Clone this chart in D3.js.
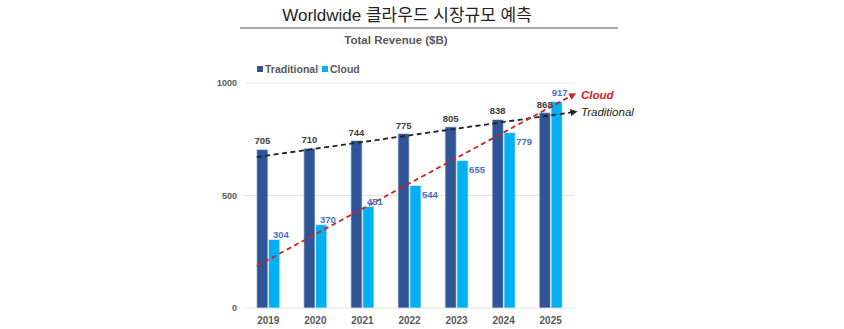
<!DOCTYPE html>
<html>
<head>
<meta charset="utf-8">
<script src="https://cdn.jsdelivr.net/npm/d3@7"></script>
<style>
  body { margin: 0; background: #fff; }
  svg { display: block; font-family: "Liberation Sans", Arial, sans-serif; }
</style>
</head>
<body>
<div id="chart"></div>
<script>
const years = ['2019', '2020', '2021', '2022', '2023', '2024', '2025'];
const traditional = [705, 710, 744, 775, 805, 838, 868];
const cloud = [304, 370, 451, 544, 655, 779, 917];
const yTicks = [0, 500, 1000];
// dashed trend lines, start / end values
const tradTrend = [671, 871];
const cloudTrend = [187, 947];
// where each cloud value label sits next to its bar
const cloudLabelPlace = ['top', 'top', 'top', 'side', 'side', 'side', 'over'];

const W = 844, H = 329;
const svg = d3.select('#chart').append('svg').attr('width', W).attr('height', H);

// title block
svg.append('text').attr('x', 407).attr('y', 21).attr('text-anchor', 'middle')
  .style('font-family', '"Liberation Sans", "Noto Sans CJK KR", sans-serif')
  .style('font-size', '17px').attr('fill', '#222')
  .text('Worldwide 클라우드 시장규모 예측');
svg.append('line').attr('x1', 240).attr('x2', 618).attr('y1', 28).attr('y2', 28)
  .attr('stroke', '#8c8c8c').attr('stroke-width', 1.5);
svg.append('text').attr('x', 396).attr('y', 44).attr('text-anchor', 'middle')
  .style('font-size', '11.5px').style('font-weight', 'bold').attr('fill', '#595959')
  .text('Total Revenue ($B)');

const TRAD_COLOR = '#2f5597';
const CLOUD_COLOR = '#00b0f0';

// legend
const legend = [['Traditional', TRAD_COLOR, 257], ['Cloud', CLOUD_COLOR, 322]];
legend.forEach(([name, color, lx]) => {
  svg.append('rect').attr('x', lx).attr('y', 66).attr('width', 6).attr('height', 6).attr('fill', color);
  svg.append('text').attr('x', lx + 8).attr('y', 73)
    .style('font-size', '10.5px').style('font-weight', 'bold').attr('fill', '#595959').text(name);
});

const y = d3.scaleLinear().domain([0, 1000]).range([308, 83]);
const x0 = d3.scaleBand().domain(years).range([245, 574]).paddingInner(0.51).paddingOuter(0.25);
const x1 = d3.scaleBand().domain(['trad', 'cloud']).range([0, x0.bandwidth()]).paddingInner(0.06);

// gridlines + y labels
svg.append('g').selectAll('line').data(yTicks).join('line')
  .attr('x1', 245).attr('x2', 574).attr('y1', d => y(d)).attr('y2', d => y(d))
  .attr('stroke', '#e3e3e3').attr('stroke-width', 1);
svg.append('g').selectAll('text').data(yTicks).join('text')
  .attr('x', 237).attr('y', d => y(d) + 3).attr('text-anchor', 'end')
  .style('font-size', '9px').style('font-weight', 'bold').attr('fill', '#595959')
  .text(d => d);

// x labels
svg.append('g').selectAll('text').data(years).join('text')
  .attr('x', d => x0(d) + x0.bandwidth() / 2).attr('y', 324).attr('text-anchor', 'middle')
  .style('font-size', '10px').style('font-weight', 'bold').attr('fill', '#595959')
  .text(d => d);

const rows = years.map((yr, i) => ({ yr, i, trad: traditional[i], cloud: cloud[i] }));

const bars = svg.append('g');
bars.selectAll('rect.t').data(rows).join('rect').attr('class', 't')
  .attr('x', d => x0(d.yr) + x1('trad')).attr('width', x1.bandwidth())
  .attr('y', d => y(d.trad)).attr('height', d => y(0) - y(d.trad))
  .attr('fill', TRAD_COLOR).attr('stroke', '#dbe3ef').attr('stroke-width', 0.8);
bars.selectAll('rect.c').data(rows).join('rect').attr('class', 'c')
  .attr('x', d => x0(d.yr) + x1('cloud')).attr('width', x1.bandwidth())
  .attr('y', d => y(d.cloud)).attr('height', d => y(0) - y(d.cloud))
  .attr('fill', CLOUD_COLOR).attr('stroke', '#dbeef7').attr('stroke-width', 0.8);

// trend lines
const defs = svg.append('defs');
function arrow(id, color) {
  defs.append('marker').attr('id', id).attr('viewBox', '0 0 10 10')
    .attr('refX', 5).attr('refY', 5).attr('markerWidth', 4).attr('markerHeight', 4)
    .attr('orient', 'auto').attr('markerUnits', 'strokeWidth')
    .append('path').attr('d', 'M0,0 L10,5 L0,10 Z').attr('fill', color);
}
arrow('arrT', '#222');
arrow('arrC', '#d42020');

const tx0 = x0(years[0]), tx1 = 574;
svg.append('line').attr('x1', tx0).attr('y1', y(tradTrend[0]))
  .attr('x2', tx1).attr('y2', y(tradTrend[1]))
  .attr('stroke', '#222').attr('stroke-width', 1.8).attr('stroke-dasharray', '5,3.5')
  .attr('marker-end', 'url(#arrT)');
svg.append('line').attr('x1', tx0).attr('y1', y(cloudTrend[0]))
  .attr('x2', tx1 - 1).attr('y2', y(cloudTrend[1]))
  .attr('stroke', '#d42020').attr('stroke-width', 1.8).attr('stroke-dasharray', '5,3.5')
  .attr('marker-end', 'url(#arrC)');

svg.append('text').attr('x', 581).attr('y', y(cloudTrend[1]) + 4)
  .style('font-size', '11.5px').style('font-weight', 'bold').style('font-style', 'italic')
  .attr('fill', '#d42020').text('Cloud');
svg.append('text').attr('x', 581).attr('y', y(tradTrend[1]) + 4)
  .style('font-size', '11.5px').style('font-style', 'italic')
  .attr('fill', '#222').text('Traditional');

// value labels
svg.append('g').selectAll('text').data(rows).join('text')
  .attr('x', d => x0(d.yr) + x1('trad') + x1.bandwidth() / 2)
  .attr('y', d => y(d.trad) - 5).attr('text-anchor', 'middle')
  .style('font-size', '9.5px').style('font-weight', 'bold').attr('fill', '#404040')
  .text(d => d.trad);

svg.append('g').selectAll('text').data(rows).join('text')
  .each(function (d) {
    const left = x0(d.yr) + x1('cloud');
    const right = left + x1.bandwidth();
    const place = cloudLabelPlace[d.i];
    const t = d3.select(this);
    if (place === 'top') {
      t.attr('x', right + 1).attr('y', y(d.cloud) - 2).attr('text-anchor', 'middle');
    } else if (place === 'side') {
      t.attr('x', right + 1).attr('y', y(d.cloud) + 12).attr('text-anchor', 'start');
    } else {
      t.attr('x', left + x1.bandwidth() / 2 + 3).attr('y', y(d.cloud) - 6).attr('text-anchor', 'middle');
    }
  })
  .style('font-size', '9.5px').style('font-weight', 'bold').attr('fill', '#4472c4')
  .text(d => d.cloud);
</script>
</body>
</html>
